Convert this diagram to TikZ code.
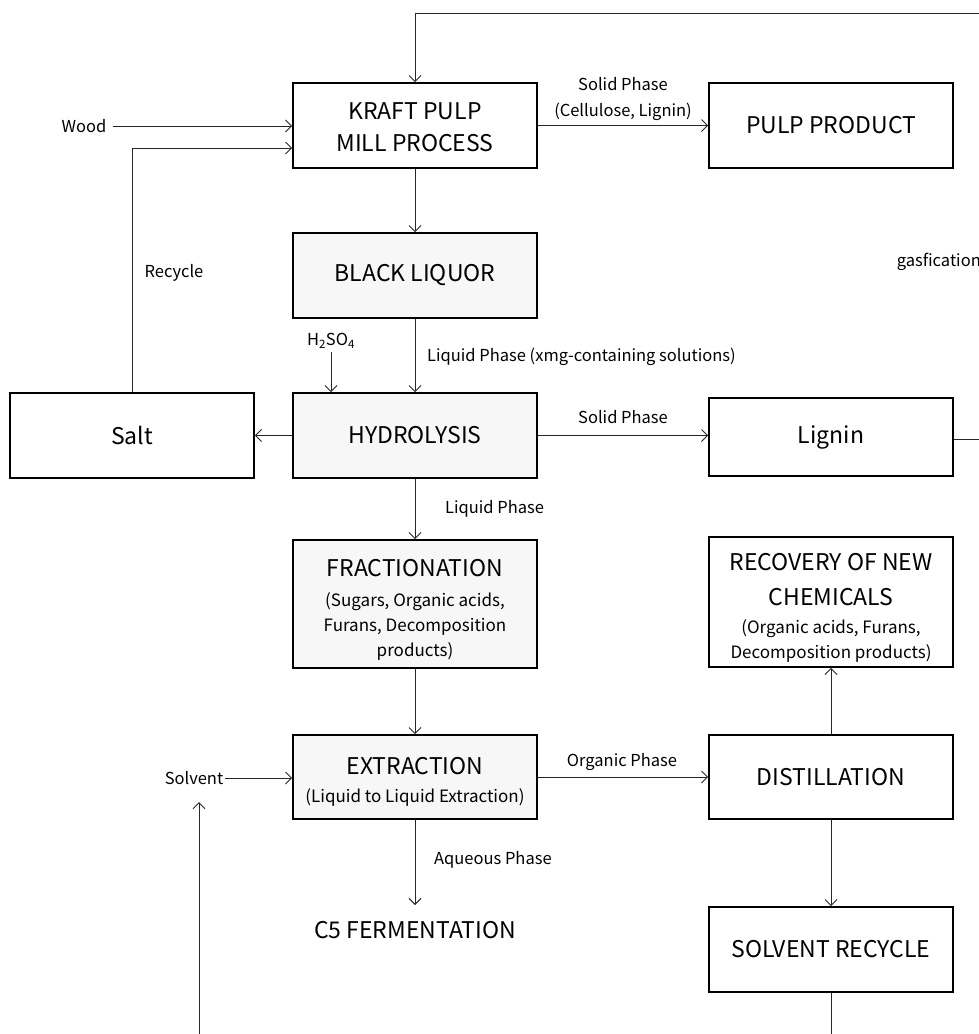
\documentclass[tikz,border=0pt]{standalone}
\usepackage{fontspec}
\setmainfont{Noto Sans CJK KR}
\usetikzlibrary{arrows.meta}
\newcommand{\bigtxt}{\fontsize{23}{32}\selectfont}
\newcommand{\smalltxt}{\fontsize{17}{25}\selectfont}
\newcommand{\topstrut}[1]{\rule{0pt}{#1}}
\tikzset{
  box/.style={draw=black, line width=1.6pt, fill=white, minimum width=244pt, inner sep=0pt, align=center, font=\bigtxt},
  gbox/.style={box, fill=black!3},
  subbox/.style={font=\smalltxt},
  conn/.style={draw=black!85, line width=1pt, -{Straight Barb[length=6pt,width=12pt,line width=1pt]}},
  line/.style={draw=black!85, line width=1pt},
  lbl/.style={font=\fontsize{16.5}{26}\selectfont, inner sep=0pt}
}
\begin{document}
\begin{tikzpicture}[x=1pt,y=-1pt]
\useasboundingbox (0,0) rectangle (979,1034);
% boxes
\node[box, minimum height=85pt] (kraft) at (415,125.5) {\topstrut{20pt}KRAFT PULP\\MILL PROCESS};
\node[box, minimum height=85pt] (pulp) at (831,125.5) {PULP PRODUCT};
\node[gbox, minimum height=85pt] (black) at (415,275.5) {BLACK LIQUOR};
\node[gbox, minimum height=85pt] (hyd) at (415,435.5) {HYDROLYSIS};
\node[box, minimum height=85pt] (salt) at (132,435.5) {Salt};
\node[box, minimum height=78pt] (lignin) at (831,437) {Lignin};
\node[gbox, subbox, minimum height=128pt] (frac) at (415,604) {\topstrut{29pt}{\bigtxt FRACTIONATION}\\[5pt](Sugars, Organic acids,\\Furans, Decomposition\\products)};
\node[box, subbox, minimum height=130pt] (recov) at (831,602) {\topstrut{29pt}{\bigtxt RECOVERY OF NEW}\\[10pt]{\bigtxt CHEMICALS}\\[3pt](Organic acids, Furans,\\Decomposition products)};
\node[gbox, subbox, minimum height=84pt] (extr) at (415,777) {\topstrut{27pt}{\bigtxt EXTRACTION}\\[3pt](Liquid to Liquid Extraction)};
\node[box, minimum height=84pt] (dist) at (831,777) {DISTILLATION};
\node[box, minimum height=85pt] (solv) at (831,949.5) {SOLVENT RECYCLE};
\node[font=\bigtxt, inner sep=0pt] (c5) at (415,930) {C5 FERMENTATION};
% labels
\node[lbl] (wood) at (84,126) {Wood};
\node[lbl] (recyc) at (174,273) {Recycle};
\node[lbl] (solvent) at (194,778) {Solvent};
\node[lbl] (h2so4) at (331,341) {H\textsubscript{2}SO\textsubscript{4}};
\node[lbl, anchor=east] (gas) at (981,262) {gasfication};
\node[lbl, align=center] (sp1) at (623,98.5) {Solid Phase\\(Cellulose, Lignin)};
\node[lbl, anchor=west] (lp1) at (427,357) {Liquid Phase (xmg-containing solutions)};
\node[lbl] (sp2) at (623,417) {Solid Phase};
\node[lbl, anchor=west] (lp2) at (445,509) {Liquid Phase};
\node[lbl] (org) at (622,762) {Organic Phase};
\node[lbl, anchor=west] (aq) at (434,860) {Aqueous Phase};
% coordinates
\coordinate (topR) at (979,13);
\coordinate (topL) at (415,13);
\coordinate (recTop) at (132,148);
\coordinate (ligR) at (979,439);
\coordinate (solvBot) at (199,1034);
\coordinate (solvHead) at (199,802);
\coordinate (srBot) at (831,1034);
\coordinate (aqEnd) at (415,905);
\coordinate (h2s) at (331,352);
% connectors
\draw[line] (topR) -- (topL);
\draw[conn] (topL) -- (kraft.north);
\draw[conn] (wood.east) ++(6pt,0) coordinate (w0) -- (w0 -| kraft.west);
\draw[conn] (salt.north) -- (recTop) -- (recTop -| kraft.west);
\draw[conn] (kraft.east) -- (pulp.west);
\draw[conn] (kraft.south) -- (black.north);
\draw[conn] (black.south) -- (hyd.north);
\draw[conn] (h2s) -- (h2s |- hyd.north);
\draw[conn] (hyd.west) -- (salt.east);
\draw[conn] (hyd.east) -- (hyd.east -| lignin.west);
\draw[line] (lignin.east |- ligR) -- (ligR);
\draw[conn] (hyd.south) -- (frac.north);
\draw[conn] (frac.south) -- (extr.north);
\draw[conn] (solvent.east) ++(2pt,0) coordinate (s0) -- (s0 -| extr.west);
\draw[conn] (solvBot) -- (solvHead);
\draw[conn] (extr.east) -- (dist.west);
\draw[conn] (extr.south) -- (aqEnd);
\draw[conn] (dist.north) -- (recov.south);
\draw[conn] (dist.south) -- (solv.north);
\draw[line] (solv.south) -- (srBot);
\end{tikzpicture}
\end{document}
